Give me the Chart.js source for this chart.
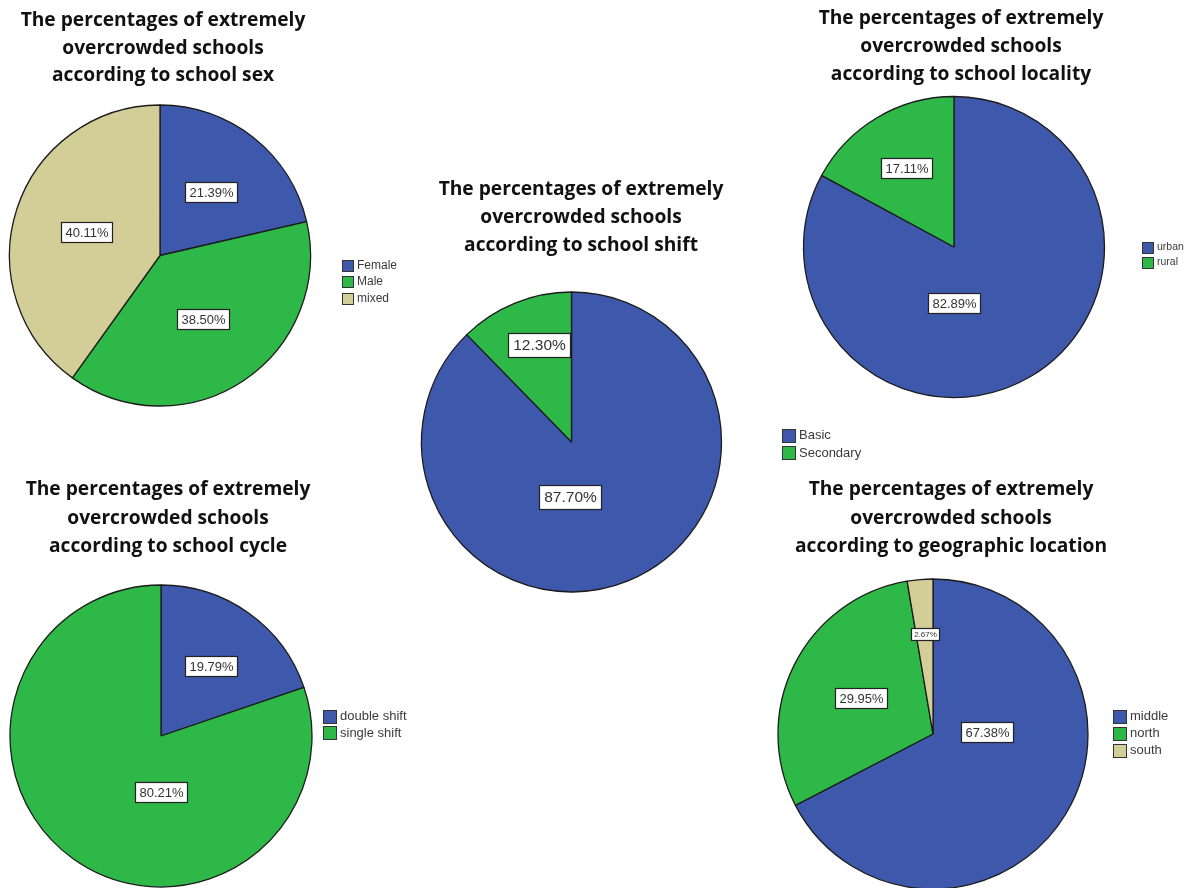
<!DOCTYPE html>
<html>
<head>
<meta charset="utf-8">
<script src="https://cdn.jsdelivr.net/npm/chart.js@4.4.1/dist/chart.umd.min.js"></script>
<style>
  html, body { margin: 0; padding: 0; background: #ffffff; width: 1192px; height: 888px; overflow: hidden; }
  canvas { position: absolute; left: 0; top: 0; pointer-events: none; }
</style>
</head>
<body>
<canvas id="cSex" width="1192" height="888"></canvas>
<canvas id="cShift" width="1192" height="888"></canvas>
<canvas id="cLocality" width="1192" height="888"></canvas>
<canvas id="cCycle" width="1192" height="888"></canvas>
<canvas id="cGeo" width="1192" height="888"></canvas>
<script>
// ---------------- DATA ----------------
const sexLabels = ['Female', 'Male', 'mixed'];
const sexValues = [21.39, 38.50, 40.11];

const shiftLabels = ['Basic', 'Secondary'];
const shiftValues = [87.70, 12.30];

const localityLabels = ['urban', 'rural'];
const localityValues = [82.89, 17.11];

const cycleLabels = ['double shift', 'single shift'];
const cycleValues = [19.79, 80.21];

const geoLabels = ['middle', 'north', 'south'];
const geoValues = [67.38, 29.95, 2.67];

const titleSex = ['The percentages of extremely', 'overcrowded schools', 'according to school sex'];
const titleShift = ['The percentages of extremely', 'overcrowded schools', 'according to school shift'];
const titleLocality = ['The percentages of extremely', 'overcrowded schools', 'according to school locality'];
const titleCycle = ['The percentages of extremely', 'overcrowded schools', 'according to school cycle'];
const titleGeo = ['The percentages of extremely', 'overcrowded schools', 'according to geographic location'];

// ---------------- STYLE ----------------
const BLUE = '#3E58AC', GREEN = '#2EB848', TAN = '#D3CE97';
const W = 1192, H = 888;
const TITLE_FONT = '700 19.2px "Open Sans", Lato, sans-serif';
const TEXT_FAMILY = '"Liberation Sans", Arial, sans-serif';

function decorPlugin(cfg) {
  return {
    id: 'decor',
    afterDraw(chart) {
      const ctx = chart.ctx;
      const meta = chart.getDatasetMeta(0);
      ctx.save();
      // title
      ctx.fillStyle = '#111111';
      ctx.font = cfg.titleFont || TITLE_FONT;
      ctx.textAlign = 'center';
      ctx.textBaseline = 'middle';
      cfg.title.forEach((line, i) => {
        ctx.fillText(line, cfg.titleX, cfg.titleY + i * cfg.titleGap);
      });
      // value labels
      const values = chart.data.datasets[0].data;
      meta.data.forEach((arc, i) => {
        const p = arc.getProps(['x', 'y', 'startAngle', 'endAngle', 'outerRadius'], true);
        const place = cfg.labelPlace[i];
        const ang = (place.a === null) ? (p.startAngle + p.endAngle) / 2 : (place.a - 90) * Math.PI / 180;
        const lx = p.x + Math.cos(ang) * p.outerRadius * place.f;
        const ly = p.y + Math.sin(ang) * p.outerRadius * place.f;
        const txt = values[i].toFixed(2) + '%';
        const fs = place.fs || cfg.labelFont;
        ctx.font = fs + 'px ' + TEXT_FAMILY;
        const tw = ctx.measureText(txt).width;
        const padX = fs * 0.32, bh = Math.round(fs * 1.55);
        const bw = Math.round(tw + padX * 2);
        const bx = Math.round(lx - bw / 2) + 0.5, by = Math.round(ly - bh / 2) + 0.5;
        ctx.fillStyle = '#ffffff';
        ctx.fillRect(bx, by, bw, bh);
        ctx.strokeStyle = '#222222';
        ctx.lineWidth = 1.2;
        ctx.strokeRect(bx, by, bw, bh);
        ctx.fillStyle = '#333333';
        ctx.textAlign = 'center';
        ctx.textBaseline = 'middle';
        ctx.fillText(txt, bx + bw / 2, by + bh / 2 + 0.5);
      });
      // legend
      const labels = chart.data.labels;
      const colors = chart.data.datasets[0].backgroundColor;
      ctx.font = cfg.legendFont + 'px ' + TEXT_FAMILY;
      ctx.textAlign = 'left';
      ctx.textBaseline = 'middle';
      labels.forEach((lab, i) => {
        const cy = cfg.legendY + i * cfg.legendGap;
        const s = cfg.legendBox;
        const bx = Math.round(cfg.legendX) + 0.5, by = Math.round(cy - s / 2) + 0.5;
        ctx.fillStyle = colors[i];
        ctx.fillRect(bx, by, s, s);
        ctx.strokeStyle = '#333333';
        ctx.lineWidth = 1;
        ctx.strokeRect(bx, by, s, s);
        ctx.fillStyle = '#3a3a3a';
        ctx.fillText(lab, cfg.legendX + s + 4, cy + 0.5);
      });
      ctx.restore();
    }
  };
}

function makePie(id, labels, values, colors, cfg) {
  const half = 40;
  new Chart(document.getElementById(id), {
    type: 'pie',
    data: {
      labels: labels,
      datasets: [{
        data: values,
        backgroundColor: colors,
        borderColor: '#1c1c1c',
        borderWidth: 1.3,
        clip: false
      }]
    },
    options: {
      responsive: false,
      devicePixelRatio: 1,
      animation: false,
      events: [],
      radius: cfg.r,
      layout: {
        padding: {
          left: cfg.cx - half,
          right: W - cfg.cx - half,
          top: cfg.cy - half,
          bottom: H - cfg.cy - half
        }
      },
      plugins: {
        legend: { display: false },
        tooltip: { enabled: false },
        title: { display: false }
      }
    },
    plugins: [decorPlugin(cfg)]
  });
}

makePie('cSex', sexLabels, sexValues, [BLUE, GREEN, TAN], {
  cx: 160, cy: 255.5, r: 150.5,
  title: titleSex, titleX: 163, titleY: 21, titleGap: 27.5,
  labelFont: 13,
  labelPlace: [{a: null, f: 0.54}, {a: null, f: 0.51}, {a: null, f: 0.51}],
  legendX: 342, legendY: 265, legendGap: 16.5, legendBox: 11, legendFont: 12
});

makePie('cShift', shiftLabels, shiftValues, [BLUE, GREEN], {
  cx: 571.5, cy: 442, r: 150,
  title: titleShift, titleX: 581, titleY: 190, titleGap: 28,
  labelFont: 15.5,
  labelPlace: [{a: 182, f: 0.37}, {a: 341.5, f: 0.68}],
  legendX: 782, legendY: 435, legendGap: 17.5, legendBox: 13, legendFont: 13
});

makePie('cLocality', localityLabels, localityValues, [BLUE, GREEN], {
  cx: 954, cy: 247, r: 150.5,
  title: titleLocality, titleX: 961, titleY: 19, titleGap: 28,
  labelFont: 13,
  labelPlace: [{a: 180, f: 0.37}, {a: null, f: 0.61}],
  legendX: 1142, legendY: 247, legendGap: 15, legendBox: 11, legendFont: 10.5
});

makePie('cCycle', cycleLabels, cycleValues, [BLUE, GREEN], {
  cx: 161, cy: 736, r: 151,
  title: titleCycle, titleX: 168, titleY: 490, titleGap: 28.5,
  labelFont: 13,
  labelPlace: [{a: null, f: 0.57}, {a: 180, f: 0.37}],
  legendX: 323, legendY: 716, legendGap: 16.7, legendBox: 13, legendFont: 13
});

makePie('cGeo', geoLabels, geoValues, [BLUE, GREEN, TAN], {
  cx: 933, cy: 734, r: 155,
  title: titleGeo, titleX: 951, titleY: 490, titleGap: 28.5,
  labelFont: 13,
  labelPlace: [{a: 88, f: 0.35}, {a: null, f: 0.52}, {a: null, f: 0.65, fs: 8}],
  legendX: 1113, legendY: 716, legendGap: 17, legendBox: 13, legendFont: 13
});
</script>
</body>
</html>
